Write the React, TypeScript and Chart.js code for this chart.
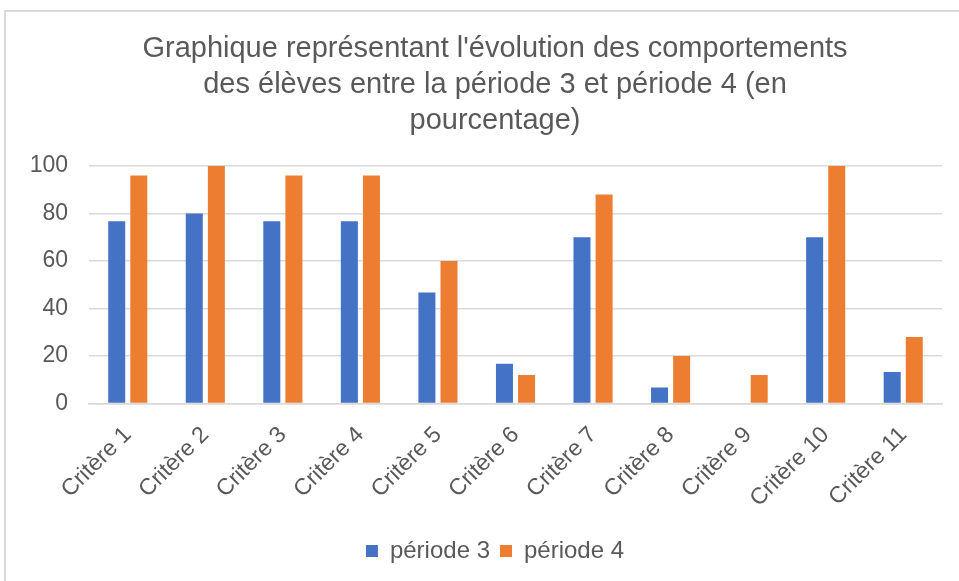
import React, { useEffect, useRef } from "react";
import { Chart, registerables } from "chart.js";

Chart.register(...registerables);

const categories = [
  "Critère 1", "Critère 2", "Critère 3", "Critère 4", "Critère 5", "Critère 6",
  "Critère 7", "Critère 8", "Critère 9", "Critère 10", "Critère 11",
];
const periode3 = [76.7, 80, 76.7, 76.7, 46.7, 16.7, 70, 6.7, 0, 70, 13.3];
const periode4 = [96, 100, 96, 96, 60, 12, 88, 20, 12, 100, 28];
const seriesNames = ["période 3", "période 4"];
const titleLines = [
  "Graphique représentant l'évolution des comportements",
  "des élèves entre la période 3 et période 4 (en",
  "pourcentage)",
];
const yTicks = [0, 20, 40, 60, 80, 100];

const FONT = "'Liberation Sans', Arial, sans-serif";
const TEXT = "#595959";
const GRID = "#d9d9d9";

const centerBoxes = {
  id: "centerBoxes",
  afterLayout(chart: any) {
    const right = chart.chartArea.right;
    const left = 48;
    for (const box of [chart.titleBlock, chart.legend]) {
      if (!box) continue;
      box.left = left;
      box.right = right;
      box.width = right - left;
    }
  },
};

export default function App() {
  const ref = useRef<HTMLCanvasElement | null>(null);

  useEffect(() => {
    if (!ref.current) return;
    const chart = new Chart(ref.current, {
      type: "bar",
      data: {
        labels: categories,
        datasets: [
          {
            label: seriesNames[0],
            data: periode3,
            backgroundColor: "#4472C4",
            categoryPercentage: 0.57,
            barPercentage: 0.77,
          },
          {
            label: seriesNames[1],
            data: periode4,
            backgroundColor: "#ED7D31",
            categoryPercentage: 0.57,
            barPercentage: 0.77,
          },
        ],
      },
      plugins: [centerBoxes],
      options: {
        animation: false,
        responsive: false,
        maintainAspectRatio: false,
        layout: { padding: { left: 10, right: 17, top: 0, bottom: 8 } },
        plugins: {
          title: {
            display: true,
            text: titleLines,
            color: TEXT,
            font: { family: FONT, size: 29, weight: "normal", lineHeight: 1.24 },
            padding: { top: 31, bottom: 27 },
          },
          legend: {
            position: "bottom",
            labels: {
              color: TEXT,
              font: { family: FONT, size: 24 },
              boxWidth: 12,
              boxHeight: 12,
              padding: 10,
            },
          },
          tooltip: { enabled: false },
        },
        scales: {
          x: {
            grid: { display: false, drawTicks: false },
            border: { display: true, color: GRID, width: 1.5 },
            ticks: {
              color: TEXT,
              font: { family: FONT, size: 23 },
              maxRotation: 45,
              minRotation: 45,
              padding: 18,
              autoSkip: false,
            },
            afterFit: (scale: any) => {
              scale.height = 125.5;
            },
          },
          y: {
            min: 0,
            max: 100,
            afterBuildTicks: (scale: any) => {
              scale.ticks = yTicks.map((v) => ({ value: v }));
            },
            grid: { color: GRID, lineWidth: 1.5, drawTicks: false },
            border: { display: false },
            ticks: {
              color: TEXT,
              font: { family: FONT, size: 23 },
              padding: 21,
            },
            afterFit: (scale: any) => {
              scale.width = 79;
            },
          },
        },
      },
    });
    return () => chart.destroy();
  }, []);

  return (
    <div
      style={{
        position: "fixed",
        left: 0,
        top: 0,
        width: 959,
        height: 581,
        background: "#fff",
        overflow: "hidden",
      }}
    >
      <div
        style={{
          position: "absolute",
          left: 4,
          top: 10,
          width: 1000,
          height: 700,
          borderLeft: `2px solid ${GRID}`,
          borderTop: `2px solid ${GRID}`,
        }}
      />
      <canvas
        ref={ref}
        width={959}
        height={581}
        style={{ position: "absolute", left: 0, top: 0, width: 959, height: 581 }}
      />
    </div>
  );
}
